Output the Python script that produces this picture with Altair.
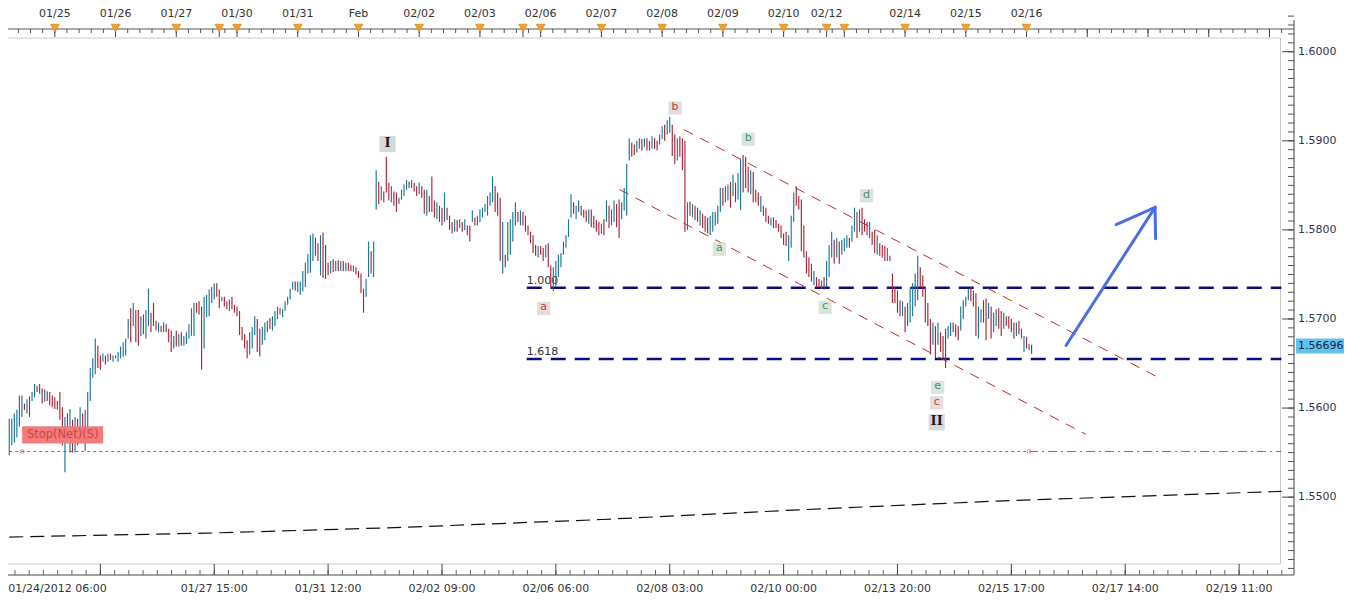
import altair as alt
import pandas as pd

# ---------------- data (hourly bars, prices in pips above 1.5000) ----------------
HIGH_PIPS = [
    588, 588, 594, 598, 614, 614, 605, 610, 613, 618,
    627, 625, 627, 622, 621, 619, 618, 614, 612, 608,
    618, 601, 590, 594, 599, 587, 590, 588, 601, 594,
    598, 618, 645, 656, 678, 670, 659, 661, 659, 661,
    661, 659, 659, 663, 669, 674, 678, 700, 712, 718,
    710, 710, 703, 705, 710, 734, 707, 718, 698, 696,
    692, 696, 694, 689, 687, 681, 687, 683, 685, 681,
    685, 694, 712, 718, 718, 720,
    714, 725, 727, 733, 736, 740, 740, 733, 725, 725,
    720, 722, 725, 716, 714, 709, 691, 683, 676, 685,
    691, 703, 700, 689, 691, 696, 698, 701, 703, 709,
    714, 712, 711, 720, 725, 734, 742, 742, 742, 742,
    754, 763, 773, 794, 796, 791, 785, 794, 797, 783,
    763, 765, 767, 765, 766, 765, 765, 763, 763, 761,
    760, 758, 754, 751, 734, 745, 787, 776, 787,
    867, 854, 849, 843, 882, 853, 849, 843, 842, 836,
    845, 851, 856, 854, 856, 853, 849, 853, 849, 845,
    845, 838, 860, 833, 831, 827, 825, 842, 825, 816,
    809, 812, 811, 812, 809, 812, 805, 805, 822, 814,
    816, 823, 825, 829, 838, 842, 860, 849, 842, 836,
    809, 772, 809, 812, 820, 831, 820, 822, 820, 816,
    805, 798, 794, 783, 782, 782, 780, 783, 785, 760,
    758, 765, 772, 774, 787, 794, 812, 840, 831, 827,
    833, 827, 823, 822, 823, 823, 816, 811, 809, 807,
    812, 833, 827, 823, 833, 829, 834, 831, 847, 874,
    903, 898, 896, 900, 903, 902, 903, 903, 900, 905,
    903, 900, 907, 916, 918, 923, 927, 918, 907, 903,
    905, 903, 900, 831, 832, 829, 827, 825, 822, 818,
    816, 814, 816, 820, 820, 827, 847, 847, 849, 851,
    854, 862, 853, 864, 880, 884, 882, 871, 867, 865,
    845, 842, 838, 827, 825, 816, 814, 814, 811, 807,
    805, 796, 798, 794, 816, 842, 849, 838, 834, 805,
    776, 769, 762, 754, 747, 745, 743, 747, 765, 783,
    798, 789, 791, 787, 789, 791, 794, 791, 805, 825,
    820, 823, 825, 812, 809, 809, 798, 800, 794, 785,
    783, 782, 780, 771,
    751, 736, 732, 721, 720, 714, 718, 736, 740, 751,
    771, 758, 749, 736, 718, 700, 696, 692, 696, 685,
    681, 689, 692, 696, 696, 694, 692, 714, 721, 725,
    734, 736, 732, 729, 714, 711, 721, 723, 718, 714,
    707, 711, 712, 709, 707, 703, 703, 700, 696, 696,
    698, 689, 681, 680, 672, 671,
]
LOW_PIPS = [
    547, 558, 561, 567, 579, 590, 598, 594, 590, 608,
    612, 618, 616, 605, 607, 608, 603, 601, 599, 598,
    587, 558, 528, 568, 550, 550, 550, 558, 568, 576,
    552, 568, 608, 634, 638, 645, 643, 652, 649, 652,
    654, 652, 656, 652, 656, 658, 659, 678, 674, 692,
    674, 670, 681, 683, 678, 692, 685, 692, 687, 685,
    685, 685, 685, 674, 663, 667, 669, 669, 670, 670,
    672, 678, 681, 681, 707, 705,
    643, 667, 702, 703, 718, 722, 725, 712, 720, 714,
    711, 709, 711, 707, 703, 682, 676, 667, 656, 660,
    667, 682, 663, 658, 671, 676, 685, 689, 687, 692,
    700, 705, 702, 709, 716, 722, 733, 732, 730, 727,
    731, 736, 751, 752, 765, 771, 765, 749, 746, 745,
    749, 751, 753, 754, 754, 754, 754, 754, 754, 754,
    753, 750, 746, 729, 707, 725, 747, 751, 747,
    823, 829, 833, 831, 842, 833, 831, 827, 820, 829,
    834, 838, 845, 847, 847, 843, 838, 840, 836, 818,
    816, 820, 820, 814, 812, 809, 805, 809, 811, 800,
    796, 798, 798, 802, 798, 800, 794, 787, 809, 805,
    805, 809, 814, 820, 816, 827, 831, 820, 816, 765,
    751, 758, 765, 772, 787, 805, 809, 805, 805, 798,
    794, 785, 774, 771, 769, 772, 765, 769, 758, 734,
    731, 736, 747, 758, 772, 780, 792, 814, 818, 812,
    820, 816, 814, 809, 807, 803, 802, 798, 794, 796,
    794, 809, 802, 805, 809, 803, 791, 812, 822, 816,
    878, 882, 884, 887, 891, 889, 893, 889, 889, 891,
    891, 889, 896, 902, 900, 907, 909, 883, 874, 878,
    882, 867, 798, 800, 816, 814, 811, 809, 805, 802,
    798, 796, 794, 798, 805, 807, 820, 827, 831, 833,
    825, 838, 831, 834, 822, 842, 847, 842, 840, 831,
    831, 827, 820, 816, 809, 807, 805, 802, 802, 798,
    791, 783, 782, 765, 780, 809, 827, 823, 776, 769,
    751, 747, 742, 738, 736, 736, 734, 733, 736, 747,
    769, 762, 769, 762, 772, 776, 780, 780, 787, 798,
    791, 798, 794, 798, 794, 791, 783, 774, 772, 771,
    769, 765, 765, 765,
    718, 718, 707, 703, 703, 685, 692, 696, 703, 714,
    721, 736, 725, 696, 692, 660, 671, 656, 671, 663,
    656, 645, 678, 681, 685, 680, 676, 687, 700, 714,
    721, 720, 714, 681, 678, 696, 696, 676, 700, 678,
    685, 692, 689, 681, 689, 692, 689, 685, 678, 681,
    683, 678, 663, 667, 665, 661,
]
DIRECTION = "".join("""
uuuuu ududu udddu ddddd ddudu dudud uuuuu ddudu duduu uuudu ddudu udddu duddd ududu uuuud d
duuuu uddud duddd ddddu uuddu uuduu uduuu uuduu uuuuu ddudd dudud ududd udddd uudu
ududd duddu uuudu ddudd udddu ddudd dudud uddud uuuuu uuddd uduuu ududd ddddu ddudd uuuuu uuudu udddu ddddu duduu dduuu
udduu duddu dduud uuddu dddud uddud dduuu uuduu duduu dddud ddudd duddd ddduu udddd dddud duduu ududu uuduu duddd uddud ddud
ddddu duuuu udddd dudud dduud dduuu udddu uddud uuddu ddddu ddudu d
""".split())

LAST_PRICE = 1.56696
PRICE_TICKS = [1.55, 1.56, 1.57, 1.58, 1.59, 1.60]

DAY_LABELS = ["01/25", "01/26", "01/27", "01/30", "01/31", "Feb", "02/02", "02/03", "02/06",
              "02/07", "02/08", "02/09", "02/10", "02/12", "02/14", "02/15", "02/16"]
DAY_LABEL_IDX = [18, 42, 66, 90, 114, 138, 162, 186, 210, 234, 258, 282, 306, 323, 354, 378, 402]
DAY_MARK_IDX = [18, 42, 66, 83, 90, 114, 138, 162, 186, 203, 210, 234, 258, 282, 306, 323, 330,
                354, 378, 402]
FUTURE_DAY_IDX = [426, 450, 474, 498]

TIME_LABELS = ["01/27 15:00", "01/31 12:00", "02/02 09:00", "02/06 06:00", "02/08 03:00",
               "02/10 00:00", "02/13 20:00", "02/15 17:00", "02/17 14:00", "02/19 11:00"]
TIME_IDX = [81, 126, 171, 216, 261, 306, 351, 396, 441, 486]
START_LABEL = "01/24/2012 06:00"
TIME_TICK_IDX = [36, 81, 126, 171, 216, 261, 306, 351, 396, 441, 486]

FIB_TEXT = ["1.000", "1.618"]
FIB_LEVEL = [1.5735, 1.5655]
FIB_START = 204.5
FIB_END = 502.7

CH_X1 = [266.6, 241.2]
CH_P1 = [1.59126, 1.58453]
CH_X2 = [454.1, 425.4]
CH_P2 = [1.56343, 1.55706]

STOP_LEVEL = 1.55513
STOP_START, STOP_MID, STOP_END = 0.0, 403.0, 502.7
STOP_BOX_IDX = [5.1, 37.1]
STOP_BOX_PRICE = [1.55601, 1.55797]

MA_IDX = [0, 78.1, 156.1, 234.2, 312.3, 390.3, 502.7]
MA_PRICE = [1.54552, 1.54596, 1.54661, 1.54749, 1.54858, 1.54956, 1.55065]

ARROW_X1 = [417.6, 452.8, 452.8]
ARROW_P1 = [1.56703, 1.58253, 1.58253]
ARROW_X2 = [452.8, 437.4, 453.0]
ARROW_P2 = [1.58253, 1.58060, 1.57900]

EW_TEXT = ["I", "b", "b", "d", "a", "c", "a", "e", "c", "II"]
EW_IDX = [149.5, 263.1, 292.0, 338.8, 280.6, 322.4, 211.2, 366.9, 366.5, 366.5]
EW_PRICE = [1.58963, 1.59367, 1.59017, 1.58384, 1.57784, 1.57129, 1.57118, 1.56233, 1.56059, 1.55840]
EW_KIND = ["roman", "red", "green", "green", "green", "green", "red", "green", "red", "roman"]

# ---------------- layout ----------------
W, H = 1286, 567
X_DOM = [-0.5, 507.7]
Y_DOM = [1.54126, 1.60491]
TEAL, RED = "#1b7796", "#ab2437"
FONT = "DejaVu Sans"

X_SCALE = alt.Scale(domain=X_DOM, nice=False, zero=False)
Y_SCALE = alt.Scale(domain=Y_DOM, nice=False, zero=False)


def X(f):
    return alt.X(f, type="quantitative", scale=X_SCALE, axis=None)


def Y(f):
    return alt.Y(f, type="quantitative", scale=Y_SCALE, axis=None)


n = min(len(HIGH_PIPS), len(LOW_PIPS), len(DIRECTION))
bars = pd.DataFrame({
    "idx": list(range(n)),
    "high": [1.5 + v / 10000 for v in HIGH_PIPS[:n]],
    "low": [1.5 + v / 10000 for v in LOW_PIPS[:n]],
    "dir": ["up" if c == "u" else "down" for c in DIRECTION[:n]],
})

one = pd.DataFrame({"k": [0]})
layers = []

TOP_LINE = 21
FRAME_TOP = 30

# frame lines (light gray)
layers.append(alt.Chart(one).mark_rule(color="#c9c9c9", strokeWidth=1).encode(
    x=alt.value(0), x2=alt.value(1272.5), y=alt.value(FRAME_TOP)))
layers.append(alt.Chart(one).mark_rule(color="#c9c9c9", strokeWidth=1).encode(
    x=alt.value(0), x2=alt.value(1272.5), y=alt.value(556)))
layers.append(alt.Chart(one).mark_rule(color="#c9c9c9", strokeWidth=1).encode(
    x=alt.value(1272.5), y=alt.value(FRAME_TOP), y2=alt.value(556)))

# moving average (black dashed)
ma = pd.DataFrame({"idx": MA_IDX, "price": MA_PRICE})
layers.append(alt.Chart(ma).mark_line(color="#111111", strokeWidth=1.2, strokeDash=[14, 7]).encode(
    x=X("idx"), y=Y("price")))

# stop level
stop = pd.DataFrame({"x1": [STOP_START], "x2": [STOP_MID], "p": [STOP_LEVEL]})
stop2 = pd.DataFrame({"x1": [STOP_MID], "x2": [STOP_END], "p": [STOP_LEVEL]})
layers.append(alt.Chart(stop).mark_rule(color="#d94848", strokeWidth=1, strokeDash=[3, 3]).encode(
    x=X("x1"), x2=alt.X2("x2"), y=Y("p")))
layers.append(alt.Chart(stop2).mark_rule(color="#d94848", strokeWidth=1, strokeDash=[9, 4, 2, 4]).encode(
    x=X("x1"), x2=alt.X2("x2"), y=Y("p")))
stop_pts = pd.DataFrame({"idx": [STOP_BOX_IDX[0], STOP_MID], "p": [STOP_LEVEL, STOP_LEVEL]})
layers.append(alt.Chart(stop_pts).mark_point(shape="circle", size=14, filled=False, color="#d06060",
                                             strokeWidth=1).encode(x=X("idx"), y=Y("p")))

# fib levels
fib = pd.DataFrame({"x1": [FIB_START] * 2, "x2": [FIB_END] * 2, "p": FIB_LEVEL, "t": FIB_TEXT})
layers.append(alt.Chart(fib).mark_rule(color="#0c0c86", strokeWidth=2.6, strokeDash=[15, 9]).encode(
    x=X("x1"), x2=alt.X2("x2"), y=Y("p")))
layers.append(alt.Chart(fib).mark_text(align="left", baseline="middle", dy=-7, font=FONT, fontSize=11,
                                       color="#333333").encode(x=X("x1"), y=Y("p"), text="t:N"))

# channel lines
ch = pd.DataFrame({"x1": CH_X1, "p1": CH_P1, "x2": CH_X2, "p2": CH_P2})
layers.append(alt.Chart(ch).mark_rule(color="#b8312f", strokeWidth=1, strokeDash=[10, 8]).encode(
    x=X("x1"), y=Y("p1"), x2=alt.X2("x2"), y2=alt.Y2("p2")))

# price bars
layers.append(alt.Chart(bars).mark_rule(strokeWidth=1.15).encode(
    x=X("idx"), y=Y("high"), y2=alt.Y2("low"),
    color=alt.Color("dir:N", scale=alt.Scale(domain=["up", "down"], range=[TEAL, RED]), legend=None)))

# blue arrow
arr = pd.DataFrame({"x1": ARROW_X1, "p1": ARROW_P1, "x2": ARROW_X2, "p2": ARROW_P2})
layers.append(alt.Chart(arr).mark_rule(color="#4b6fe2", strokeWidth=3, strokeCap="round").encode(
    x=X("x1"), y=Y("p1"), x2=alt.X2("x2"), y2=alt.Y2("p2")))

# stop label box
sbox = pd.DataFrame({"x1": [STOP_BOX_IDX[0]], "x2": [STOP_BOX_IDX[1]],
                     "p1": [STOP_BOX_PRICE[0]], "p2": [STOP_BOX_PRICE[1]],
                     "xc": [(STOP_BOX_IDX[0] + STOP_BOX_IDX[1]) / 2],
                     "pc": [(STOP_BOX_PRICE[0] + STOP_BOX_PRICE[1]) / 2], "t": ["Stop(Net)(S)"]})
layers.append(alt.Chart(sbox).mark_rect(color="#f27b7b", opacity=1).encode(
    x=X("x1"), x2=alt.X2("x2"), y=Y("p1"), y2=alt.Y2("p2")))
layers.append(alt.Chart(sbox).mark_text(align="center", baseline="middle", font=FONT, fontSize=11.5,
                                        color="#c84848").encode(x=X("xc"), y=Y("pc"), text="t:N"))

# Elliott wave labels (fixed colours per kind)
ew = pd.DataFrame({"idx": EW_IDX, "p": EW_PRICE, "t": EW_TEXT, "kind": EW_KIND})
KIND_STYLE = {
    "red": ("#e5dcdc", "#c43a3a", 175, FONT, 11, "normal"),
    "green": ("#dbe4de", "#3f8f6c", 175, FONT, 11, "normal"),
    "roman": ("#d8d8d8", "#1a1a1a", 260, "DejaVu Serif", 13, "bold"),
}
for kind, (box_c, txt_c, sz, fnt, fs, fw) in KIND_STYLE.items():
    base = alt.Chart(ew).transform_filter(f"datum.kind == '{kind}'")
    layers.append(base.mark_square(size=sz, filled=True, opacity=1, color=box_c).encode(
        x=X("idx"), y=Y("p")))
    layers.append(base.mark_text(align="center", baseline="middle", font=fnt, fontSize=fs,
                                 fontWeight=fw, color=txt_c, dy=-1).encode(
        x=X("idx"), y=Y("p"), text="t:N"))

# ---- top date ruler ----
layers.append(alt.Chart(one).mark_rule(color="#555555", strokeWidth=1).encode(
    x=alt.value(0), x2=alt.value(W), y=alt.value(TOP_LINE)))
ruler = pd.DataFrame({"idx": [18 + 4.8 * k for k in range(-3, 102) if 18 + 4.8 * k <= X_DOM[1]]})
layers.append(alt.Chart(ruler).mark_rule(color="#555555", strokeWidth=1).encode(
    x=X("idx"), y=alt.value(TOP_LINE), y2=alt.value(TOP_LINE + 4)))
days = pd.DataFrame({"idx": DAY_MARK_IDX + FUTURE_DAY_IDX})
layers.append(alt.Chart(days).mark_rule(color="#444444", strokeWidth=1).encode(
    x=X("idx"), y=alt.value(TOP_LINE), y2=alt.value(TOP_LINE + 8)))
tri = pd.DataFrame({"idx": DAY_MARK_IDX})
layers.append(alt.Chart(tri).mark_point(shape="triangle-down", filled=True, size=75, color="#f2a22a",
                                        stroke="#dd8a18", strokeWidth=0.8, opacity=1).encode(
    x=X("idx"), y=alt.value(TOP_LINE - 1)))
dl = pd.DataFrame({"idx": DAY_LABEL_IDX, "t": DAY_LABELS})
layers.append(alt.Chart(dl).mark_text(align="center", baseline="middle", font=FONT, fontSize=11,
                                      color="#333333").encode(x=X("idx"), y=alt.value(6), text="t:N"))

# ---- bottom time axis ----
layers.append(alt.Chart(one).mark_rule(color="#444444", strokeWidth=1).encode(
    x=alt.value(0), x2=alt.value(W), y=alt.value(H)))
minor = pd.DataFrame({"idx": [36 + 5.625 * k for k in range(-6, 84) if 0 <= 36 + 5.625 * k <= X_DOM[1]]})
layers.append(alt.Chart(minor).mark_rule(color="#666666", strokeWidth=1).encode(
    x=X("idx"), y=alt.value(H - 5), y2=alt.value(H)))
major = pd.DataFrame({"idx": TIME_TICK_IDX})
layers.append(alt.Chart(major).mark_rule(color="#444444", strokeWidth=1).encode(
    x=X("idx"), y=alt.value(H - 11), y2=alt.value(H)))
tl = pd.DataFrame({"idx": TIME_IDX, "t": TIME_LABELS})
layers.append(alt.Chart(tl).mark_text(align="center", baseline="middle", font=FONT, fontSize=11,
                                      color="#333333").encode(x=X("idx"), y=alt.value(H + 14), text="t:N"))
sl = pd.DataFrame({"idx": [0], "t": [START_LABEL]})
layers.append(alt.Chart(sl).mark_text(align="left", baseline="middle", font=FONT, fontSize=11,
                                      color="#333333", dx=-1).encode(x=X("idx"), y=alt.value(H + 14), text="t:N"))

# ---- right price axis ----
layers.append(alt.Chart(one).mark_rule(color="#444444", strokeWidth=1).encode(
    x=alt.value(W), y=alt.value(12), y2=alt.value(H)))
pminor = pd.DataFrame({"p": [round(1.542 + 0.001 * k, 3) for k in range(63)]})
layers.append(alt.Chart(pminor).mark_rule(color="#555555", strokeWidth=1).encode(
    x=alt.value(W - 6), x2=alt.value(W), y=Y("p")))
pmajor = pd.DataFrame({"p": PRICE_TICKS, "t": [f"{v:.4f}" for v in PRICE_TICKS]})
layers.append(alt.Chart(pmajor).mark_rule(color="#444444", strokeWidth=1).encode(
    x=alt.value(W - 12), x2=alt.value(W), y=Y("p")))
layers.append(alt.Chart(pmajor).mark_text(align="left", baseline="middle", font=FONT, fontSize=11,
                                          color="#33334a").encode(x=alt.value(W + 4), y=Y("p"), text="t:N"))
half = 7.5 * (Y_DOM[1] - Y_DOM[0]) / H
last = pd.DataFrame({"p": [LAST_PRICE], "p1": [LAST_PRICE - half], "p2": [LAST_PRICE + half],
                     "t": [f"{LAST_PRICE:.5f}"]})
layers.append(alt.Chart(last).mark_rect(color="#5fc3ef", opacity=1).encode(
    x=alt.value(W + 2), x2=alt.value(W + 50), y=Y("p1"), y2=alt.Y2("p2")))
layers.append(alt.Chart(last).mark_text(align="left", baseline="middle", font=FONT, fontSize=11,
                                        color="#1d2440").encode(x=alt.value(W + 4), y=Y("p"), text="t:N"))

chart = alt.layer(*layers).properties(
    width=W, height=H,
    padding={"left": 0, "top": 0, "right": 58, "bottom": 21},
    autosize=alt.AutoSizeParams(type="none"),
    background="white",
).configure_view(stroke=None)

chart.save("out.html", embed_options={"renderer": "svg", "actions": False})
